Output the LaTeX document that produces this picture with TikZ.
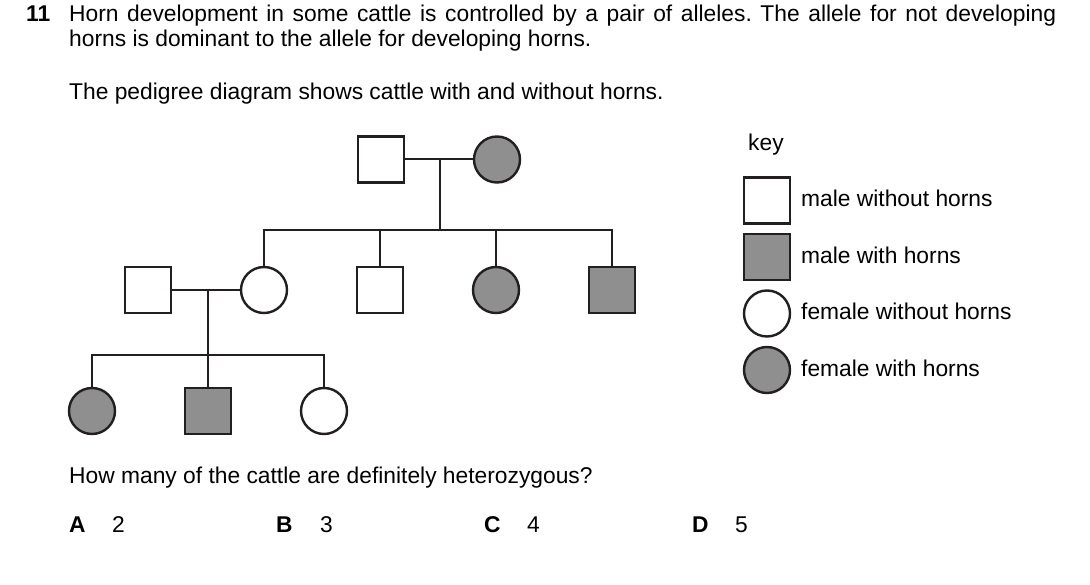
\documentclass[tikz,border=0pt]{standalone}
\usepackage{fontspec}
\setmainfont{Liberation Sans}
\frenchspacing
\definecolor{ink}{HTML}{231F20}
\definecolor{horn}{HTML}{8F8F8F}
\begin{document}
\begin{tikzpicture}[x=1pt,y=-1pt,
  txt/.style={anchor=base west,inner sep=0pt,font=\fontsize{22.8}{25}\selectfont},
  bold/.style={font=\fontsize{22.8}{25}\selectfont\bfseries},
  male/.style={draw=ink,line width=2.4pt,minimum size=46pt,inner sep=0pt,fill=white},
  female/.style={draw=ink,line width=2.4pt,circle,minimum size=46pt,inner sep=0pt,fill=white},
  horned/.style={fill=horn},
  link/.style={draw=ink,line width=2pt}]
\useasboundingbox (0,0) rectangle (1090,585);
% text
\node[txt,bold] (num) at (26,22) {11};
\node[txt,text width=987pt,align=justify] (l1) at (69,22) {\frenchspacing Horn development in some cattle is controlled by a pair of alleles. The allele for not developing horns is dominant to the allele for developing horns.};
\node[txt] (l3) at (69,100) {The pedigree diagram shows cattle with and without horns.};
\node[txt] (q) at (69,483) {How many of the cattle are definitely heterozygous?};
\node[txt,bold] (A) at (69,532) {A};
\node[txt] (a) at (112,532) {2};
\node[txt,bold] (B) at (276,532) {B};
\node[txt] (b) at (320,532) {3};
\node[txt,bold] (C) at (484,532) {C};
\node[txt] (c) at (527,532) {4};
\node[txt,bold] (D) at (692,532) {D};
\node[txt] (d) at (735,532) {5};
% generation 1
\node[male] (g1m) at (381,159.5) {};
\node[female,horned] (g1f) at (497,159.5) {};
\coordinate (g1c) at (440,159.5);
\coordinate (g1s) at (440,230.5);
% generation 2
\node[male] (g2m) at (148,290) {};
\node[female] (g2a) at (264,290) {};
\node[male] (g2b) at (380,290) {};
\node[female,horned] (g2c) at (496,290) {};
\node[male,horned] (g2d) at (612,290) {};
\coordinate (g2c1) at (208,290);
\coordinate (g2s) at (208,355);
% generation 3
\node[female,horned] (g3a) at (92,411) {};
\node[male,horned] (g3b) at (208,411) {};
\node[female] (g3c) at (324,411) {};
% connectors
\draw[link] (g1m.east) -- (g1f.west);
\draw[link] (g1c) -- (g1s);
\draw[link] (g2a.north) |- (g1s) -| (g2d.north);
\draw[link] (g2b.north) -- (g2b.north |- g1s);
\draw[link] (g2c.north) -- (g2c.north |- g1s);
\draw[link] (g2m.east) -- (g2a.west);
\draw[link] (g2c1) -- (g2s);
\draw[link] (g3a.north) |- (g2s) -| (g3c.north);
\draw[link] (g3b.north) -- (g2s);
% key
\node[txt] (key) at (748,151) {key};
\node[male] (k1) at (767,200.5) {};
\node[male,horned] (k2) at (767,257) {};
\node[female] (k3) at (767,313.5) {};
\node[female,horned] (k4) at (767,370) {};
\node[txt] (k1t) at (801,207) {male without horns};
\node[txt] (k2t) at (801,263.5) {male with horns};
\node[txt] (k3t) at (801,320) {female without horns};
\node[txt] (k4t) at (801,376.5) {female with horns};
\end{tikzpicture}
\end{document}
